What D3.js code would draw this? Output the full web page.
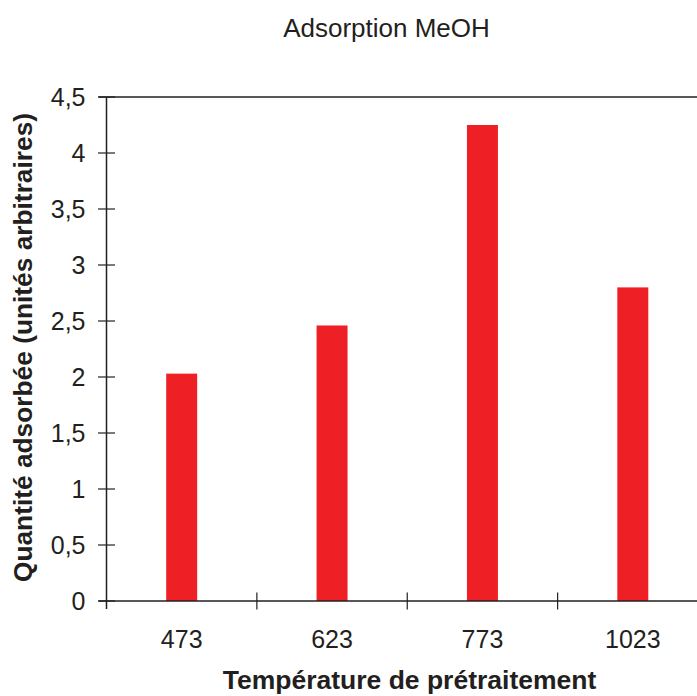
<!DOCTYPE html>
<html>
<head>
<meta charset="utf-8">
<script src="https://cdn.jsdelivr.net/npm/d3@7"></script>
<style>
  html, body { margin: 0; padding: 0; background: #fff; overflow: hidden; }
  text { font-family: "Liberation Sans", Arial, sans-serif; fill: #231F20; }
</style>
</head>
<body>
<script>
const categories = ["473", "623", "773", "1023"];
const values = [2.03, 2.46, 4.25, 2.80];
const yTicks = [0, 0.5, 1, 1.5, 2, 2.5, 3, 3.5, 4, 4.5];
const title = "Adsorption MeOH";
const xTitle = "Température de prétraitement";
const yTitle = "Quantité adsorbée (unités arbitraires)";

const W = 697, H = 696;
const mLeft = 106.5, mRight = 708, mTop = 97, mBottom = 601;

const svg = d3.select("body").append("svg").attr("width", W).attr("height", H);

const x = d3.scaleBand().domain(categories).range([mLeft, mRight]).padding(0);
const y = d3.scaleLinear().domain([0, 4.5]).range([mBottom, mTop]);
const fmt = d3.formatLocale({decimal: ",", thousands: " ", grouping: [3], currency: ["", ""]}).format("~g");

const axisColor = "#231F20";

// top border line
svg.append("line").attr("x1", mLeft - 8).attr("x2", W).attr("y1", y(4.5)).attr("y2", y(4.5))
  .attr("stroke", axisColor).attr("stroke-width", 1.5);

// bars
const bw = x.bandwidth() * 0.206;
svg.selectAll("rect.bar").data(values).enter().append("rect")
  .attr("class", "bar")
  .attr("x", (d, i) => x(categories[i]) + x.bandwidth() / 2 - bw / 2)
  .attr("width", bw)
  .attr("y", d => y(d))
  .attr("height", d => mBottom - y(d))
  .attr("fill", "#EE1F25");

// y axis
const yAxis = d3.axisLeft(y).tickValues(yTicks).tickFormat(fmt).tickSize(0).tickPadding(21);
const gy = svg.append("g").attr("transform", `translate(${mLeft},0)`).call(yAxis);
gy.select(".domain").remove();
gy.selectAll("text").style("font-size", "25px").attr("fill", axisColor);
svg.append("line").attr("x1", mLeft).attr("x2", mLeft).attr("y1", mTop).attr("y2", mBottom + 8)
  .attr("stroke", axisColor).attr("stroke-width", 1.5);
svg.selectAll("line.ytick").data(yTicks).enter().append("line").attr("class", "ytick")
  .attr("x1", mLeft - 8.5).attr("x2", mLeft + 8.5).attr("y1", d => y(d)).attr("y2", d => y(d))
  .attr("stroke", axisColor).attr("stroke-width", 1.2);

// x axis
svg.append("line").attr("x1", mLeft - 8).attr("x2", W).attr("y1", mBottom).attr("y2", mBottom)
  .attr("stroke", axisColor).attr("stroke-width", 1.5);
const bounds = categories.slice(1).map(c => x(c));
svg.selectAll("line.xtick").data(bounds).enter().append("line").attr("class", "xtick")
  .attr("x1", d => d).attr("x2", d => d).attr("y1", mBottom - 8.5).attr("y2", mBottom + 8.5)
  .attr("stroke", axisColor).attr("stroke-width", 1.2);
svg.selectAll("text.xlab").data(categories).enter().append("text").attr("class", "xlab")
  .attr("x", d => x(d) + x.bandwidth() / 2).attr("y", 648)
  .attr("text-anchor", "middle").style("font-size", "25px").text(d => d);

// titles
svg.append("text").attr("x", 386.5).attr("y", 37).attr("text-anchor", "middle")
  .style("font-size", "26px").text(title);
svg.append("text").attr("x", 409.5).attr("y", 689).attr("text-anchor", "middle")
  .style("font-size", "26.5px").style("font-weight", "bold").text(xTitle);
svg.append("text").attr("transform", "translate(32,347.5) rotate(-90)").attr("text-anchor", "middle")
  .style("font-size", "26.3px").style("font-weight", "bold").text(yTitle);
</script>
</body>
</html>
